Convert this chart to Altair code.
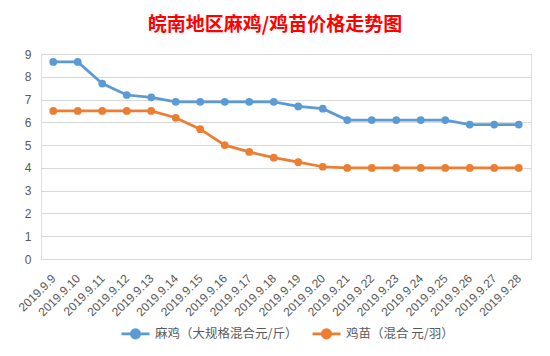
import altair as alt
import pandas as pd

dates = ["2019.9.9", "2019.9.10", "2019.9.11", "2019.9.12", "2019.9.13",
         "2019.9.14", "2019.9.15", "2019.9.16", "2019.9.17", "2019.9.18",
         "2019.9.19", "2019.9.20", "2019.9.21", "2019.9.22", "2019.9.23",
         "2019.9.24", "2019.9.25", "2019.9.26", "2019.9.27", "2019.9.28"]
adult = [8.65, 8.65, 7.7, 7.2, 7.1, 6.9, 6.9, 6.9, 6.9, 6.9,
         6.7, 6.6, 6.1, 6.1, 6.1, 6.1, 6.1, 5.9, 5.9, 5.9]
chick = [6.5, 6.5, 6.5, 6.5, 6.5, 6.2, 5.7, 5.0, 4.7, 4.45,
         4.25, 4.05, 4.0, 4.0, 4.0, 4.0, 4.0, 4.0, 4.0, 4.0]
series_names = ["麻鸡（大规格混合元/斤）", "鸡苗（混合 元/羽）"]
colors = ["#5B9BD5", "#ED7D31"]
y_ticks = [0, 1, 2, 3, 4, 5, 6, 7, 8, 9]
title_text = "皖南地区麻鸡/鸡苗价格走势图"

rows = []
for name, vals in zip(series_names, [adult, chick]):
    for d, v in zip(dates, vals):
        rows.append({"date": d, "series": name, "value": v})
df = pd.DataFrame(rows)

legend_path = "M-1,0L1,0M-0.3,0A0.3,0.3 0 1,0 0.3,0A0.3,0.3 0 1,0 -0.3,0Z"

chart = alt.Chart(df).mark_line(
    strokeWidth=2.75,
    point=alt.OverlayMarkDef(filled=True, size=60),
).encode(
    x=alt.X("date:N", sort=dates, scale=alt.Scale(type="point", padding=0.5),
            axis=alt.Axis(title=None, labelAngle=-45, labelAlign="right",
                          labelBaseline="middle", ticks=False, labelPadding=17,
                          domainColor="#D9D9D9", grid=False,
                          labelFont="Liberation Sans", labelFontSize=12,
                          labelColor="#595959")),
    y=alt.Y("value:Q", scale=alt.Scale(domain=[0, 9], nice=False),
            axis=alt.Axis(title=None, values=y_ticks, ticks=False, domain=False,
                          gridColor="#D9D9D9", labelPadding=10,
                          labelFont="Liberation Sans", labelFontSize=12,
                          labelColor="#595959")),
    color=alt.Color("series:N", sort=series_names,
                    scale=alt.Scale(domain=series_names, range=colors),
                    legend=alt.Legend(title=None, orient="none", legendX=79, legendY=264,
                                      direction="horizontal", columns=2,
                                      symbolType=legend_path, symbolSize=784,
                                      symbolStrokeWidth=2.75,
                                      labelFont="Noto Sans CJK SC", labelFontSize=12.5,
                                      labelColor="#595959", columnPadding=9,
                                      labelOffset=4)),
).properties(
    width=490,
    height=205,
    title=alt.Title(title_text, color="#FF0000", fontSize=19,
                    font="Noto Sans CJK SC", fontWeight="bold",
                    anchor="middle", frame="group", dx=-11, offset=13),
    padding={"left": 41, "top": 54, "right": 19, "bottom": 97},
    autosize=alt.AutoSizeParams(type="none"),
).configure_view(stroke=None).configure(background="white")

chart.save("out.html", embed_options={"renderer": "svg", "actions": False})
